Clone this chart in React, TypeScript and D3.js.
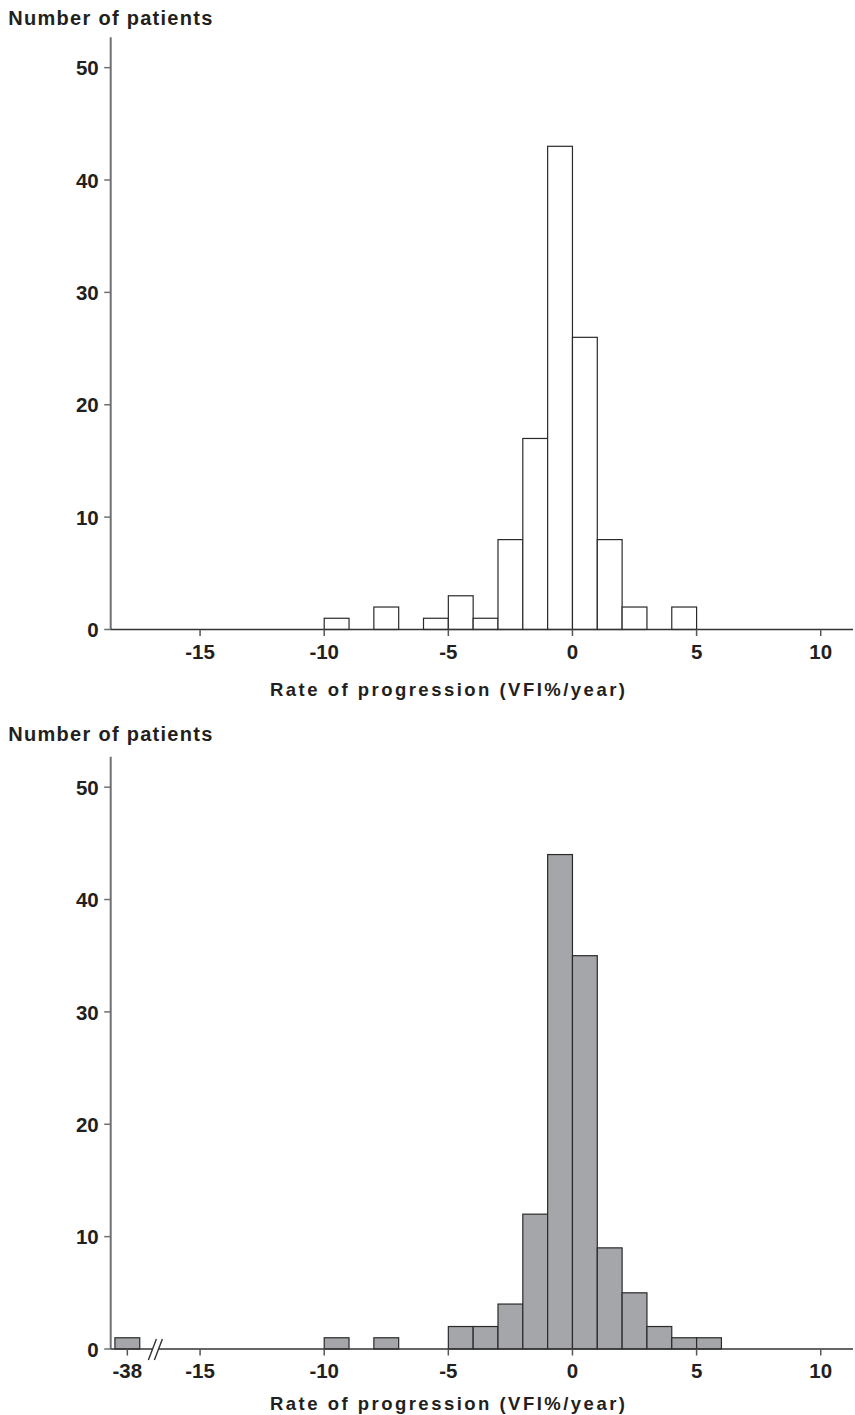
import React from "react";
import * as d3 from "d3";

// ---- Data ----
const topBinStarts = [-10, -8, -6, -5, -4, -3, -2, -1, 0, 1, 2, 4];
const topCounts = [1, 2, 1, 3, 1, 8, 17, 43, 26, 8, 2, 2];

const bottomBinStarts = [-10, -8, -5, -4, -3, -2, -1, 0, 1, 2, 3, 4, 5];
const bottomCounts = [1, 1, 2, 2, 4, 12, 44, 35, 9, 5, 2, 1, 1];
const bottomOutlierValue = -38;
const bottomOutlierCount = 1;

const xTicks = [-15, -10, -5, 0, 5, 10];
const yTicks = [0, 10, 20, 30, 40, 50];

const yTitle = "Number of patients";
const xTitle = "Rate of progression (VFI%/year)";

// ---- Layout ----
const W = 855;
const H = 1415;
const axisX = 110.7;
const TEXT = "#231f20";
const FONT = "'Liberation Sans', Arial, Helvetica, sans-serif";

const x = d3.scaleLinear().domain([-18.6, 11.3]).range([axisX, 853]);
const BREAK_SHIFT = 20.07; // values beyond the break are drawn shifted

type PanelProps = {
  y0: number; // pixel for count 0
  titleY: number;
  xTitleY: number;
  starts: number[];
  counts: number[];
  fill: string;
  outlier?: { value: number; count: number };
};

function Panel({ y0, titleY, xTitleY, starts, counts, fill, outlier }: PanelProps) {
  const y = d3.scaleLinear().domain([0, 52.7]).range([y0, y0 - 592.2]);
  const xb = (v: number) => (v < -20 ? x(v + BREAK_SHIFT) : x(v));
  const bars = starts.map((s, i) => ({ x0: s, x1: s + 1, c: counts[i] }));
  if (outlier) {
    bars.unshift({ x0: outlier.value - 0.5, x1: outlier.value + 0.5, c: outlier.count });
  }
  const ticks = outlier ? [outlier.value, ...xTicks] : xTicks;
  const breakX = x(-16.8);
  return (
    <g>
      <text
        x={8.3}
        y={titleY}
        fontFamily={FONT}
        fontWeight="bold"
        fontSize={20}
        fill={TEXT}
        textLength={204}
        lengthAdjust="spacing"
      >
        {yTitle}
      </text>
      {/* bars */}
      {bars.map((b, i) => (
        <rect
          key={i}
          x={xb(b.x0)}
          y={y(b.c)}
          width={xb(b.x1) - xb(b.x0)}
          height={y(0) - y(b.c)}
          fill={fill}
          stroke="#2a2a2a"
          strokeWidth={1.2}
        />
      ))}
      {/* y axis */}
      <line x1={axisX} x2={axisX} y1={y(0)} y2={y(52.7)} stroke="#707070" strokeWidth={2} />
      {yTicks.map((t) => (
        <g key={t}>
          <line x1={axisX - 6.5} x2={axisX} y1={y(t)} y2={y(t)} stroke="#707070" strokeWidth={1.5} />
          <text
            x={98.7}
            y={y(t) + 7.7}
            textAnchor="end"
            fontFamily={FONT}
            fontWeight="bold"
            fontSize={20.5}
            fill={TEXT}
          >
            {t}
          </text>
        </g>
      ))}
      {/* x axis */}
      {outlier ? (
        <g>
          <line x1={axisX} x2={breakX - 3} y1={y(0)} y2={y(0)} stroke="#333" strokeWidth={1.6} />
          <line x1={breakX + 3} x2={853} y1={y(0)} y2={y(0)} stroke="#333" strokeWidth={1.6} />
          {[-3, 3].map((d) => (
            <line
              key={d}
              x1={breakX + d - 4}
              x2={breakX + d + 4}
              y1={y(0) + 11}
              y2={y(0) - 10}
              stroke="#333"
              strokeWidth={1.4}
            />
          ))}
        </g>
      ) : (
        <line x1={axisX} x2={853} y1={y(0)} y2={y(0)} stroke="#333" strokeWidth={1.6} />
      )}
      {ticks.map((t) => (
        <g key={t}>
          <line x1={xb(t)} x2={xb(t)} y1={y(0)} y2={y(0) + 6.5} stroke="#555" strokeWidth={1.5} />
          <text
            x={xb(t)}
            y={y(0) + 29}
            textAnchor="middle"
            fontFamily={FONT}
            fontWeight="bold"
            fontSize={20.5}
            fill={TEXT}
          >
            {t}
          </text>
        </g>
      ))}
      <text
        x={270}
        y={xTitleY}
        fontFamily={FONT}
        fontWeight="bold"
        fontSize={18.5}
        fill={TEXT}
        textLength={355}
        lengthAdjust="spacing"
      >
        {xTitle}
      </text>
    </g>
  );
}

export default function App() {
  return (
    <svg
      width={W}
      height={H}
      viewBox={`0 0 ${W} ${H}`}
      style={{ position: "absolute", left: 0, top: 0, background: "#fff" }}
    >
      <rect x={0} y={0} width={W} height={H} fill="#fff" />
      <Panel
        y0={629.5}
        titleY={25}
        xTitleY={695.5}
        starts={topBinStarts}
        counts={topCounts}
        fill="#ffffff"
      />
      <Panel
        y0={1349}
        titleY={741}
        xTitleY={1410}
        starts={bottomBinStarts}
        counts={bottomCounts}
        fill="#a5a6a9"
        outlier={{ value: bottomOutlierValue, count: bottomOutlierCount }}
      />
    </svg>
  );
}
